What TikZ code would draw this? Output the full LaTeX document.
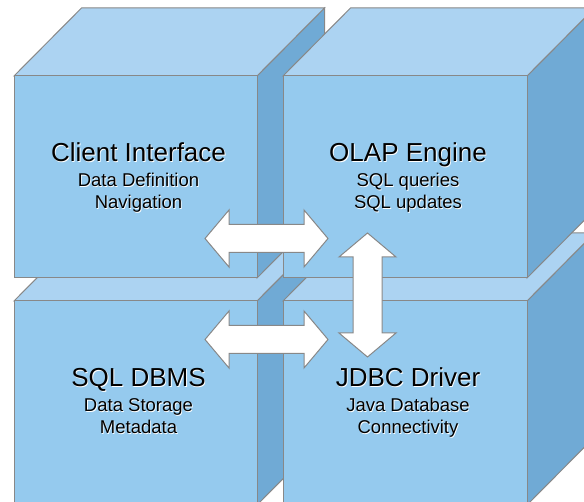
\documentclass[tikz,border=0pt]{standalone}
\usepackage{fontspec}
\setmainfont{Liberation Sans}
\definecolor{faceFront}{RGB}{149,202,238}
\definecolor{faceTop}{RGB}{172,211,242}
\definecolor{faceSide}{RGB}{112,170,213}
\definecolor{edgeGray}{RGB}{136,136,136}
\tikzset{
  face/.style={draw=edgeGray, line width=1pt, line join=miter},
  blockarrow/.style={draw=edgeGray, line width=1pt, fill=white, line join=miter},
  title/.style={font=\fontsize{26}{29}\selectfont, anchor=base, inner sep=0pt},
  subtitle/.style={font=\fontsize{18.5}{22}\selectfont, anchor=base, inner sep=0pt},
}
% cube: front face corner (#1,#2), width #3, height #4; depth offset (67.5,-68)
\newcommand\drawcube[4]{%
  \filldraw[face, fill=faceSide] (#1+#3,#2) -- ++(67.5,-68) -- ++(0,#4) -- ++(-67.5,68) -- cycle;
  \filldraw[face, fill=faceTop] (#1,#2) -- ++(67.5,-68) -- ++(#3,0) -- ++(-67.5,68) -- cycle;
  \filldraw[face, fill=faceFront] (#1,#2) rectangle ++(#3,#4);
}
% horizontal double block arrow: tips at x=#1 and #2, centre line y=#3
\newcommand\hdarrow[3]{%
  \draw[blockarrow] (#1,#3) -- (#1+24,#3-28.5) -- (#1+24,#3-14) -- (#2-24,#3-14) -- (#2-24,#3-28.5)
    -- (#2,#3) -- (#2-24,#3+28.5) -- (#2-24,#3+14) -- (#1+24,#3+14) -- (#1+24,#3+28.5) -- cycle;
}
% vertical double block arrow: centre line x=#1, tips at y=#2 and #3
\newcommand\vdarrow[3]{%
  \draw[blockarrow] (#1,#2) -- (#1+28.5,#2+24) -- (#1+14.5,#2+24) -- (#1+14.5,#3-24) -- (#1+28.5,#3-24)
    -- (#1,#3) -- (#1-28.5,#3-24) -- (#1-14.5,#3-24) -- (#1-14.5,#2+24) -- (#1-28.5,#2+24) -- cycle;
}
\begin{document}
\begin{tikzpicture}[x=1pt, y=-1pt]
  \useasboundingbox (0,0) rectangle (584,502);
  \fill[white] (0,0) rectangle (584,502);
  \clip (0,0) rectangle (584,502);

  % back row first, then front row
  \drawcube{14}{301}{243}{204}
  \drawcube{283}{301}{244}{204}
  \drawcube{14}{76}{243}{202}
  \drawcube{283}{76}{244}{202}

  % labels, each over a light offset halo
  \node[title, text=white] at (139.4,162.9) {Client Interface};
  \node[title] (ci) at (138.5,162) {Client Interface};
  \node[subtitle, text=white] at (139.3,187.3) {Data Definition};
  \node[subtitle] (ci1) at (138.5,186.5) {Data Definition};
  \node[subtitle, text=white] at (139.3,209.3) {Navigation};
  \node[subtitle] (ci2) at (138.5,208.5) {Navigation};

  \node[title, text=white] at (408.9,162.9) {OLAP Engine};
  \node[title] (olap) at (408,162) {OLAP Engine};
  \node[subtitle, text=white] at (408.8,187.3) {SQL queries};
  \node[subtitle] (olap1) at (408,186.5) {SQL queries};
  \node[subtitle, text=white] at (408.8,209.3) {SQL updates};
  \node[subtitle] (olap2) at (408,208.5) {SQL updates};

  \node[title, text=white] at (139.4,387.9) {SQL DBMS};
  \node[title] (dbms) at (138.5,387) {SQL DBMS};
  \node[subtitle, text=white] at (139.3,412.3) {Data Storage};
  \node[subtitle] (dbms1) at (138.5,411.5) {Data Storage};
  \node[subtitle, text=white] at (139.3,434.3) {Metadata};
  \node[subtitle] (dbms2) at (138.5,433.5) {Metadata};

  \node[title, text=white] at (408.9,387.9) {JDBC Driver};
  \node[title] (jdbc) at (408,387) {JDBC Driver};
  \node[subtitle, text=white] at (408.8,412.3) {Java Database};
  \node[subtitle] (jdbc1) at (408,411.5) {Java Database};
  \node[subtitle, text=white] at (408.8,434.3) {Connectivity};
  \node[subtitle] (jdbc2) at (408,433.5) {Connectivity};

  % block arrows between the cubes
  \hdarrow{205}{328}{238.5}
  \hdarrow{205}{328}{339.5}
  \vdarrow{367.5}{233}{357}
\end{tikzpicture}
\end{document}
